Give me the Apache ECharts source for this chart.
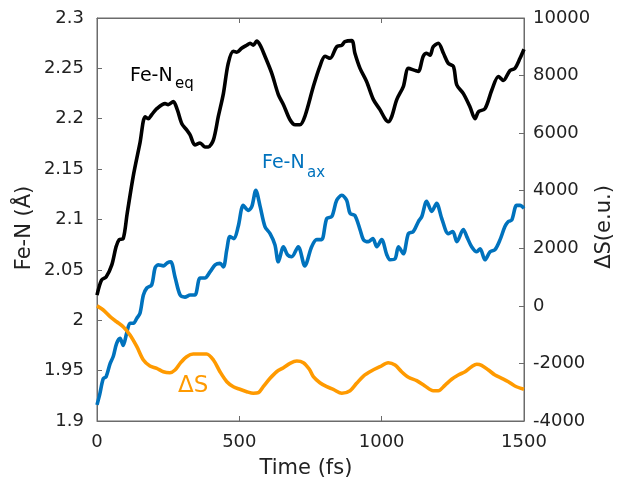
<!DOCTYPE html>
<html><head><meta charset="utf-8">
<script src="https://cdn.jsdelivr.net/npm/echarts@6/dist/echarts.min.js"></script>
<style>html,body{margin:0;padding:0;background:#fff}#c{width:617px;height:483px}</style>
</head><body><div id="c"></div><script>
// Time axis (fs)
const timeTicks = [0, 500, 1000, 1500];
const leftTicks = [1.9, 1.95, 2, 2.05, 2.1, 2.15, 2.2, 2.25, 2.3];
const rightTicks = [-4000, -2000, 0, 2000, 4000, 6000, 8000, 10000];

// Fe-N_eq (Å)
const eqTime = [0,16,32,52,67,78,92,106,128,151,169,180,192,210,239,250,268,282,298,315,327,344,362,379,391,409,426,444,461,479,491,508,526,538,549,561,573,590,614,637,655,678,696,713,731,760,783,801,819,842,860,871,895,906,924,947,971,994,1012,1023,1035,1053,1076,1094,1117,1129,1146,1158,1170,1181,1199,1217,1234,1252,1264,1287,1310,1328,1340,1363,1387,1410,1427,1451,1468,1486,1500];
const feNeq = [2.025,2.040,2.043,2.055,2.073,2.080,2.081,2.106,2.144,2.176,2.202,2.200,2.204,2.210,2.215,2.214,2.217,2.209,2.195,2.189,2.184,2.174,2.176,2.172,2.172,2.179,2.202,2.225,2.255,2.267,2.266,2.270,2.273,2.275,2.273,2.277,2.273,2.262,2.245,2.224,2.214,2.199,2.194,2.194,2.203,2.232,2.252,2.262,2.260,2.2715,2.273,2.2765,2.2775,2.265,2.250,2.237,2.219,2.209,2.200,2.197,2.202,2.219,2.232,2.250,2.248,2.247,2.262,2.265,2.263,2.2715,2.275,2.265,2.255,2.252,2.2335,2.225,2.212,2.200,2.207,2.210,2.2285,2.242,2.238,2.248,2.250,2.260,2.269];

// Fe-N_ax (Å)
const axTime = [0,10,22,32,46,57,69,81,92,104,116,128,140,151,163,175,192,204,215,233,247,259,274,292,309,327,344,362,379,397,415,432,444,456,467,481,496,514,532,544,558,573,590,608,625,637,655,669,684,707,730,754,772,789,807,825,842,860,877,889,906,924,936,953,969,983,1000,1018,1029,1047,1059,1076,1094,1111,1129,1141,1158,1176,1193,1211,1234,1250,1264,1287,1299,1316,1334,1346,1363,1381,1398,1416,1433,1445,1457,1474,1486,1500];
const feNax = [1.916,1.927,1.942,1.944,1.957,1.964,1.977,1.982,1.975,1.987,1.997,1.997,2.002,2.007,2.025,2.032,2.035,2.052,2.055,2.054,2.057,2.058,2.043,2.025,2.023,2.025,2.025,2.042,2.042,2.048,2.055,2.0565,2.053,2.070,2.083,2.081,2.093,2.114,2.109,2.113,2.129,2.113,2.093,2.086,2.075,2.058,2.073,2.065,2.063,2.073,2.054,2.073,2.080,2.080,2.101,2.103,2.119,2.124,2.119,2.106,2.104,2.090,2.080,2.078,2.081,2.073,2.080,2.065,2.060,2.061,2.073,2.066,2.086,2.088,2.098,2.103,2.118,2.108,2.116,2.101,2.086,2.088,2.078,2.090,2.083,2.073,2.068,2.071,2.060,2.068,2.070,2.080,2.093,2.098,2.0995,2.114,2.114,2.111];

// ΔS (e.u.)
const dsTime = [0,22,46,69,92,116,140,163,186,210,233,256,274,292,315,338,362,385,409,432,456,479,502,526,549,567,584,608,631,655,678,702,725,746,760,783,807,830,860,889,912,936,965,994,1023,1047,1070,1094,1123,1152,1181,1199,1223,1246,1269,1293,1316,1334,1351,1375,1398,1422,1445,1468,1500];
const deltaS = [0,-144,-377,-551,-724,-1013,-1419,-1881,-2090,-2169,-2288,-2322,-2228,-1996,-1766,-1673,-1673,-1673,-1881,-2288,-2635,-2809,-2899,-2982,-3038,-3017,-2809,-2517,-2288,-2149,-1996,-1916,-1975,-2204,-2461,-2670,-2809,-2899,-3038,-2948,-2691,-2437,-2253,-2114,-1975,-2055,-2288,-2482,-2600,-2784,-2948,-2948,-2750,-2551,-2402,-2288,-2114,-2030,-2065,-2228,-2402,-2517,-2635,-2784,-2900];

const FONT = 'DejaVu Sans';
const AXC = '#6b6b6b';
const TXT = '#222';
const BLUE = '#0072BD';
const ORANGE = '#FF9A00';

const pairs = (xs, ys) => xs.map((x, i) => [x, ys[i]]);

const chart = echarts.init(document.getElementById('c'), null, {renderer: 'canvas'});
const xBase = {
  type: 'value', min: timeTicks[0], max: timeTicks[timeTicks.length - 1],
  interval: timeTicks[1] - timeTicks[0],
  axisLine: {show: true, onZero: false, lineStyle: {color: AXC, width: 1}},
  axisTick: {show: true, inside: true, length: 5, lineStyle: {color: AXC}},
  splitLine: {show: false}
};
chart.setOption({
  animation: false,
  backgroundColor: '#fff',
  grid: {left: 97, right: 93, top: 18, bottom: 62, show: true, borderColor: AXC, borderWidth: 1, backgroundColor: 'transparent'},
  xAxis: [
    Object.assign({}, xBase, {position: 'bottom',
      axisLabel: {show: true, margin: 12, fontFamily: FONT, fontSize: 18, color: TXT,
        formatter: v => String(v)}}),
    Object.assign({}, xBase, {position: 'top', axisLabel: {show: false}})
  ],
  yAxis: [
    {type: 'value', position: 'left', min: leftTicks[0], max: leftTicks[leftTicks.length - 1],
     interval: 0.05,
     axisLine: {show: true, onZero: false, lineStyle: {color: AXC, width: 1}},
     axisTick: {show: true, inside: true, length: 5, lineStyle: {color: AXC}},
     splitLine: {show: false},
     axisLabel: {margin: 13, fontFamily: FONT, fontSize: 18, color: TXT,
       formatter: v => String(Math.round(v * 100) / 100)}},
    {type: 'value', position: 'right', min: rightTicks[0], max: rightTicks[rightTicks.length - 1],
     interval: 2000,
     axisLine: {show: true, onZero: false, lineStyle: {color: AXC, width: 1}},
     axisTick: {show: true, inside: true, length: 5, lineStyle: {color: AXC}},
     splitLine: {show: false},
     axisLabel: {margin: 9, fontFamily: FONT, fontSize: 18, color: TXT,
       formatter: v => String(v)}}
  ],
  series: [
    {name: 'Fe-Neq', type: 'line', xAxisIndex: 0, yAxisIndex: 0, data: pairs(eqTime, feNeq),
     showSymbol: false, smooth: 0.3, lineStyle: {color: '#000', width: 3.6}, z: 3},
    {name: 'Fe-Nax', type: 'line', xAxisIndex: 0, yAxisIndex: 0, data: pairs(axTime, feNax),
     showSymbol: false, smooth: 0.3, lineStyle: {color: BLUE, width: 3.6}, z: 3},
    {name: 'ΔS', type: 'line', xAxisIndex: 0, yAxisIndex: 1, data: pairs(dsTime, deltaS),
     showSymbol: false, smooth: 0.3, lineStyle: {color: ORANGE, width: 3.6}, z: 4}
  ],
  graphic: [
    {type: 'text', left: 130, top: 67, style: {text: 'Fe-N', fontFamily: FONT, fontSize: 19, fill: '#000'}},
    {type: 'text', left: 175, top: 77, style: {text: 'eq', fontFamily: FONT, fontSize: 15, fill: '#000'}},
    {type: 'text', left: 262, top: 154, style: {text: 'Fe-N', fontFamily: FONT, fontSize: 19, fill: BLUE}},
    {type: 'text', left: 307, top: 166, style: {text: 'ax', fontFamily: FONT, fontSize: 15, fill: BLUE}},
    {type: 'text', left: 178, top: 375, style: {text: 'ΔS', fontFamily: FONT, fontSize: 23, fill: ORANGE}},
    {type: 'text', x: 25, y: 228, rotation: Math.PI / 2,
     style: {text: 'Fe-N (Å)', fontFamily: FONT, fontSize: 21, fill: TXT, align: 'center', verticalAlign: 'middle'}},
    {type: 'text', x: 605, y: 227, rotation: Math.PI / 2,
     style: {text: 'ΔS(e.u.)', fontFamily: FONT, fontSize: 21, fill: TXT, align: 'center', verticalAlign: 'middle'}},
    {type: 'text', x: 306, y: 469,
     style: {text: 'Time (fs)', fontFamily: FONT, fontSize: 21, fill: TXT, align: 'center', verticalAlign: 'middle'}}
  ]
});
</script></body></html>
